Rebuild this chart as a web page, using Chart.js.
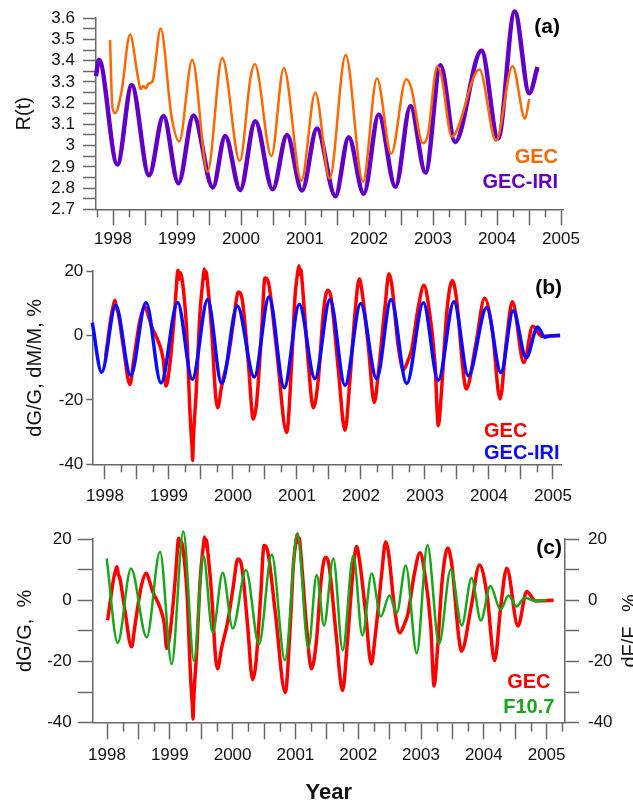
<!DOCTYPE html>
<html>
<head>
<meta charset="utf-8">
<script src="https://cdn.jsdelivr.net/npm/chart.js@4.4.1/dist/chart.umd.min.js"></script>
<style>
    html, body { margin: 0; padding: 0; background: #fff; }
    #wrap { position: relative; width: 633px; height: 806px; overflow: hidden; }
    .panel { position: absolute; left: 0; width: 633px; }
    canvas { display: block; }
</style>
</head>
<body>
<div id="wrap">
    <div class="panel" style="top:0;height:258px"><canvas id="chartA" width="633" height="258"></canvas></div>
    <div class="panel" style="top:258px;height:262px"><canvas id="chartB" width="633" height="262"></canvas></div>
    <div class="panel" style="top:520px;height:286px"><canvas id="chartC" width="633" height="286"></canvas></div>
</div>
<script>
// panel (a): R(t)
const yearsGecA = [1997.953, 1997.990, 1998.031, 1998.135, 1998.265, 1998.395, 1998.432, 1998.473, 1998.515, 1998.551,
    1998.614, 1998.744, 1998.915, 1999.035, 1999.238, 1999.477, 1999.706, 1999.981, 2000.148, 2000.215,
    2000.475, 2000.668, 2000.943, 2001.161, 2001.385, 2001.635, 2001.906, 2002.124, 2002.347, 2002.581,
    2002.659, 2002.841, 2002.919, 2003.065, 2003.127, 2003.294, 2003.725, 2003.984, 2004.243, 2004.438, 2004.504];
const gecA = [3.497, 3.181, 3.153, 3.258, 3.523, 3.312, 3.266, 3.281, 3.269, 3.292,
    3.301, 3.551, 3.135, 3.019, 3.404, 2.877, 3.412, 2.927, 3.320, 3.384,
    2.950, 3.366, 2.834, 3.250, 2.845, 3.427, 2.830, 3.316, 2.962, 3.312,
    3.273, 3.011, 3.050, 3.373, 3.335, 3.042, 3.358, 3.022, 3.374, 3.127, 3.219];
const yearsIriA = [1997.734, 1997.780, 1998.068, 1998.292, 1998.563, 1998.788, 1999.022, 1999.257, 1999.560, 1999.753,
    1999.987, 2000.222, 2000.496, 2000.718, 2000.953, 2001.187, 2001.474, 2001.683, 2001.917, 2002.152,
    2002.413, 2002.648, 2002.883, 2003.117, 2003.344, 2003.757, 2004.017, 2004.276, 2004.504, 2004.633];
const iriA = [3.327, 3.404, 2.911, 3.284, 2.860, 3.139, 2.823, 3.142, 2.803, 3.045,
    2.791, 3.115, 2.794, 3.050, 2.788, 3.081, 2.762, 3.039, 2.773, 3.147,
    2.806, 3.186, 2.873, 3.378, 3.017, 3.447, 3.034, 3.632, 3.247, 3.370];

// panels (b) and (c): GEC variation dG/G, %
const yearsGec = [1998.010, 1998.104, 1998.130, 1998.156, 1998.180, 1998.208, 1998.286, 1998.391, 1998.443, 1998.547,
    1998.625, 1998.667, 1998.729, 1998.833, 1998.911, 1998.953, 1999.016, 1999.094, 1999.120, 1999.135,
    1999.146, 1999.160, 1999.175, 1999.208, 1999.276, 1999.328, 1999.345, 1999.360, 1999.370, 1999.380,
    1999.395, 1999.422, 1999.484, 1999.535, 1999.552, 1999.565, 1999.580, 1999.604, 1999.667, 1999.729,
    1999.760, 1999.823, 1999.927, 2000.005, 2000.083, 2000.146, 2000.240, 2000.318, 2000.370, 2000.448,
    2000.500, 2000.552, 2000.682, 2000.839, 2000.917, 2000.969, 2001.010, 2001.031, 2001.045, 2001.060,
    2001.083, 2001.177, 2001.255, 2001.333, 2001.411, 2001.479, 2001.531, 2001.646, 2001.750, 2001.828,
    2001.906, 2001.974, 2002.021, 2002.115, 2002.208, 2002.271, 2002.375, 2002.438, 2002.479, 2002.583,
    2002.661, 2002.740, 2002.792, 2002.896, 2002.984, 2003.052, 2003.156, 2003.208, 2003.260, 2003.339,
    2003.427, 2003.495, 2003.599, 2003.644, 2003.800, 2003.931, 2004.050, 2004.173, 2004.270, 2004.366,
    2004.544, 2004.684, 2004.825, 2005.111];
const gec = [-6.5, 6.9, 9.2, 11.0, 8.6, 6.9, -3.4, -15.2, -8.5, 4.8,
    8.9, 6.9, 2.8, -1.8, -7.5, -15.7, -8.5, 8.9, 16.5, 19.8,
    20.3, 17.5, 19.5, 17.1, 1.7, -23.9, -30.0, -34.5, -38.8, -33.0,
    -27.0, -18.8, 6.9, 18.0, 20.7, 17.8, 19.8, 16.1, 1.7, -18.8,
    -22.4, -15.7, -6.5, 3.8, 13.5, 11.0, -8.5, -25.9, -20.8, 1.7,
    17.9, 16.6, -4.4, -30.1, -8.5, 12.0, 19.5, 21.7, 19.0, 20.5,
    16.1, -8.5, -22.4, -13.6, 6.9, 14.1, 12.0, -10.6, -29.5, -13.6,
    6.9, 17.6, 13.0, -3.4, -20.8, -11.6, 8.9, 19.2, 16.1, -3.4,
    -10.6, -7.5, -4.4, 8.9, 15.6, 9.9, -8.5, -28.0, -16.7, 6.9,
    17.1, 11.0, -11.6, -16.6, -2.0, 11.6, 2.0, -19.7, -2.0, 10.5,
    -8.4, 2.9, -0.2, 0];
const yearsIri = [1997.802, 1997.948, 1998.167, 1998.401, 1998.641, 1998.875, 1999.135, 1999.365, 1999.604, 1999.823,
    2000.068, 2000.333, 2000.563, 2000.802, 2001.036, 2001.281, 2001.516, 2001.750, 2001.995, 2002.245,
    2002.469, 2002.714, 2002.974, 2003.208, 2003.453, 2003.677, 2003.964, 2004.186, 2004.378, 2004.581,
    2004.759, 2004.870, 2004.952, 2005.111];
const iri = [4.0, -11.4, 9.4, -12.4, 10.3, -14.7, 10.3, -13.6, 11.2, -14.9,
    9.2, -12.9, 12.0, -16.2, 9.7, -13.4, 11.2, -15.5, 10.0, -13.4,
    11.2, -14.9, 10.2, -13.9, 10.5, -12.5, 8.7, -11.5, 7.7, -6.9,
    2.7, -0.5, -0.1, 0];
const yearsF107 = [1997.995, 1998.170, 1998.382, 1998.632, 1998.844, 1999.030, 1999.215, 1999.385, 1999.534, 1999.683,
    1999.843, 2000.001, 2000.213, 2000.420, 2000.622, 2000.834, 2001.031, 2001.206, 2001.339, 2001.455,
    2001.604, 2001.753, 2001.923, 2002.066, 2002.215, 2002.359, 2002.497, 2002.614, 2002.757, 2002.932,
    2003.102, 2003.288, 2003.474, 2003.650, 2003.804, 2003.954, 2004.104, 2004.266, 2004.395, 2004.519,
    2004.656, 2004.799, 2004.994];
const f107 = [13.7, -13.9, 10.4, -12.1, 15.9, -20.8, 22.5, -19.8, 14.7, -10.5,
    9.0, -9.2, 9.9, -14.4, 15.0, -19.6, 21.8, -15.6, 8.3, -8.2,
    13.7, -16.3, 14.7, -11.5, 8.8, -5.3, 1.6, -4.1, 11.4, -17.3,
    18.1, -14.2, 10.2, -8.2, 7.3, -6.6, 4.7, -3.0, 1.6, -2.0,
    0.9, -0.1, 0];

const FONT = "'Liberation Sans', Arial, sans-serif";
const AXIS = '#686868';
const INK = '#111111';

const pts = (xs, ys) => xs.map((x, i) => ({ x: x, y: ys[i] }));

const line = (label, data, color, width, order, axis) => ({
    label: label,
    data: data,
    borderColor: color,
    borderWidth: width,
    pointRadius: 0,
    fill: false,
    cubicInterpolationMode: 'monotone',
    clip: false,
    order: order,
    yAxisID: axis
});

const xAxis = (min, max, tick, pad, height, title) => ({
    type: 'linear',
    min: min,
    max: max,
    grid: { drawOnChartArea: false, tickLength: tick, tickColor: AXIS, tickWidth: 1.5 },
    border: { display: true, color: AXIS, width: 1.5 },
    ticks: {
        stepSize: 0.5, includeBounds: false, autoSkip: false, maxRotation: 0, maxTicksLimit: 100,
        padding: pad, color: INK, font: { family: FONT, size: 17 },
        callback: v => Number.isInteger(v) ? String(v) : ''
    },
    title: title
        ? { display: true, text: title, color: INK, font: { family: FONT, size: 22, weight: 'bold' }, padding: { top: 0, bottom: 0 } }
        : { display: false },
    afterFit: s => { s.height = height; }
});

const yAxis = (pos, min, max, step, every, tick, pad, width, title, titlePad) => ({
    type: 'linear',
    position: pos,
    min: min,
    max: max,
    grid: { drawOnChartArea: false, tickLength: tick, tickColor: AXIS, tickWidth: 1.5 },
    border: { display: true, color: AXIS, width: 1.5 },
    ticks: {
        stepSize: step, autoSkip: false, maxTicksLimit: 100, padding: pad, color: INK,
        font: { family: FONT, size: 17 },
        callback: v => Math.abs(v / every - Math.round(v / every)) < 1e-6 ? String(+v.toFixed(2)) : ''
    },
    title: title
        ? { display: true, text: title, color: INK, font: { family: FONT, size: 20 }, padding: { top: titlePad, bottom: 0 } }
        : { display: false },
    afterFit: s => { s.width = width; }
});

// short quarter-year ticks between the half-year ones
const minorTicks = {
    id: 'minorTicks',
    afterDraw(chart, args, opts) {
        const s = chart.scales.x;
        const ctx = chart.ctx;
        ctx.save();
        ctx.strokeStyle = AXIS;
        ctx.lineWidth = 1.5;
        for (let v = Math.ceil(s.min * 4) / 4; v <= s.max; v += 0.25) {
            if (Number.isInteger(Math.round(v * 4) / 2)) continue;
            const px = Math.round(s.getPixelForValue(v)) + 0.5;
            ctx.beginPath();
            ctx.moveTo(px, s.top);
            ctx.lineTo(px, s.top + opts.len);
            ctx.stroke();
        }
        ctx.restore();
    }
};

// panel tag, in-plot legend and the right axis title
const panelText = {
    id: 'panelText',
    afterDraw(chart, args, o) {
        const ctx = chart.ctx;
        const area = chart.chartArea;
        ctx.save();
        ctx.textBaseline = 'middle';
        ctx.fillStyle = '#000';
        ctx.textAlign = 'right';
        ctx.font = 'bold 21px ' + FONT;
        ctx.fillText(o.tag, o.tagX, o.tagY);
        ctx.font = 'bold 20px ' + FONT;
        ctx.textAlign = o.legendAlign;
        chart.data.datasets.forEach((d, i) => {
            ctx.fillStyle = d.borderColor;
            ctx.fillText(d.label, o.legendX, o.legendY[i]);
        });
        if (o.rightTitle) {
            ctx.fillStyle = INK;
            ctx.font = '20px ' + FONT;
            ctx.textAlign = 'center';
            ctx.textBaseline = 'alphabetic';
            ctx.translate(area.right + 71, (area.top + area.bottom) / 2);
            ctx.rotate(-Math.PI / 2);
            ctx.fillText(o.rightTitle, 0, 0);
        }
        ctx.restore();
    }
};

const base = (padding, extra, scales) => ({
    responsive: false,
    animation: false,
    devicePixelRatio: 1,
    layout: { padding: padding },
    plugins: Object.assign({ legend: { display: false }, tooltip: { enabled: false } }, extra),
    scales: scales
});

new Chart(document.getElementById('chartA'), {
    type: 'line',
    data: {
        datasets: [
            line('GEC', pts(yearsGecA, gecA), '#ff6600', 2.5, 0, 'y'),
            line('GEC-IRI', pts(yearsIriA, iriA), '#6200c8', 4.5, 1, 'y')
        ]
    },
    options: base(
        { left: 0, right: 70, top: 14.3, bottom: 3.7 },
        {
            minorTicks: { len: 8 },
            panelText: { tag: '(a)', tagX: 560, tagY: 27, legendAlign: 'right', legendX: 558, legendY: [157, 182] }
        },
        {
            x: xAxis(1997.734, 2005.031, 16, 4, 45),
            y: yAxis('left', 2.7, 3.6, 0.05, 0.1, 13, 8, 96, 'R(t)', 12)
        }
    ),
    plugins: [minorTicks, panelText]
});

new Chart(document.getElementById('chartB'), {
    type: 'line',
    data: {
        datasets: [
            line('GEC', pts(yearsGec, gec), '#ff0000', 3.5, 1, 'y'),
            line('GEC-IRI', pts(yearsIri, iri), '#0a0aff', 3.5, 0, 'y')
        ]
    },
    options: base(
        { left: 0, right: 72, top: 11.3, bottom: 10.7 },
        {
            minorTicks: { len: 8 },
            panelText: { tag: '(b)', tagX: 562, tagY: 30.3, legendAlign: 'left', legendX: 484, legendY: [173.7, 195.3] }
        },
        {
            x: xAxis(1997.802, 2005.125, 15, 6.5, 45),
            y: yAxis('left', -40, 20, 20, 20, 6, 3, 92.3, 'dG/G, dM/M, %', 23)
        }
    ),
    plugins: [minorTicks, panelText]
});

new Chart(document.getElementById('chartC'), {
    type: 'line',
    data: {
        datasets: [
            line('GEC', pts(yearsGec, gec), '#ff0000', 3.5, 1, 'y'),
            line('F10.7', pts(yearsF107, f107), '#17a817', 2.5, 0, 'y2')
        ]
    },
    options: base(
        { left: 0, right: 0, top: 9, bottom: 0.3 },
        {
            minorTicks: { len: 9 },
            panelText: {
                tag: '(c)', tagX: 562, tagY: 28.3, legendAlign: 'center', legendX: 528.8, legendY: [162.7, 187.7],
                rightTitle: 'dF/F,  %'
            }
        },
        {
            x: xAxis(1997.772, 2005.293, 16.7, 5.5, 83, 'Year'),
            y: yAxis('left', -40, 20, 10, 20, 15, 6, 92.7, 'dG/G,  %', 13.5),
            y2: yAxis('right', -40, 20, 10, 20, 14, 9, 68)
        }
    ),
    plugins: [minorTicks, panelText]
});
</script>
</body>
</html>
